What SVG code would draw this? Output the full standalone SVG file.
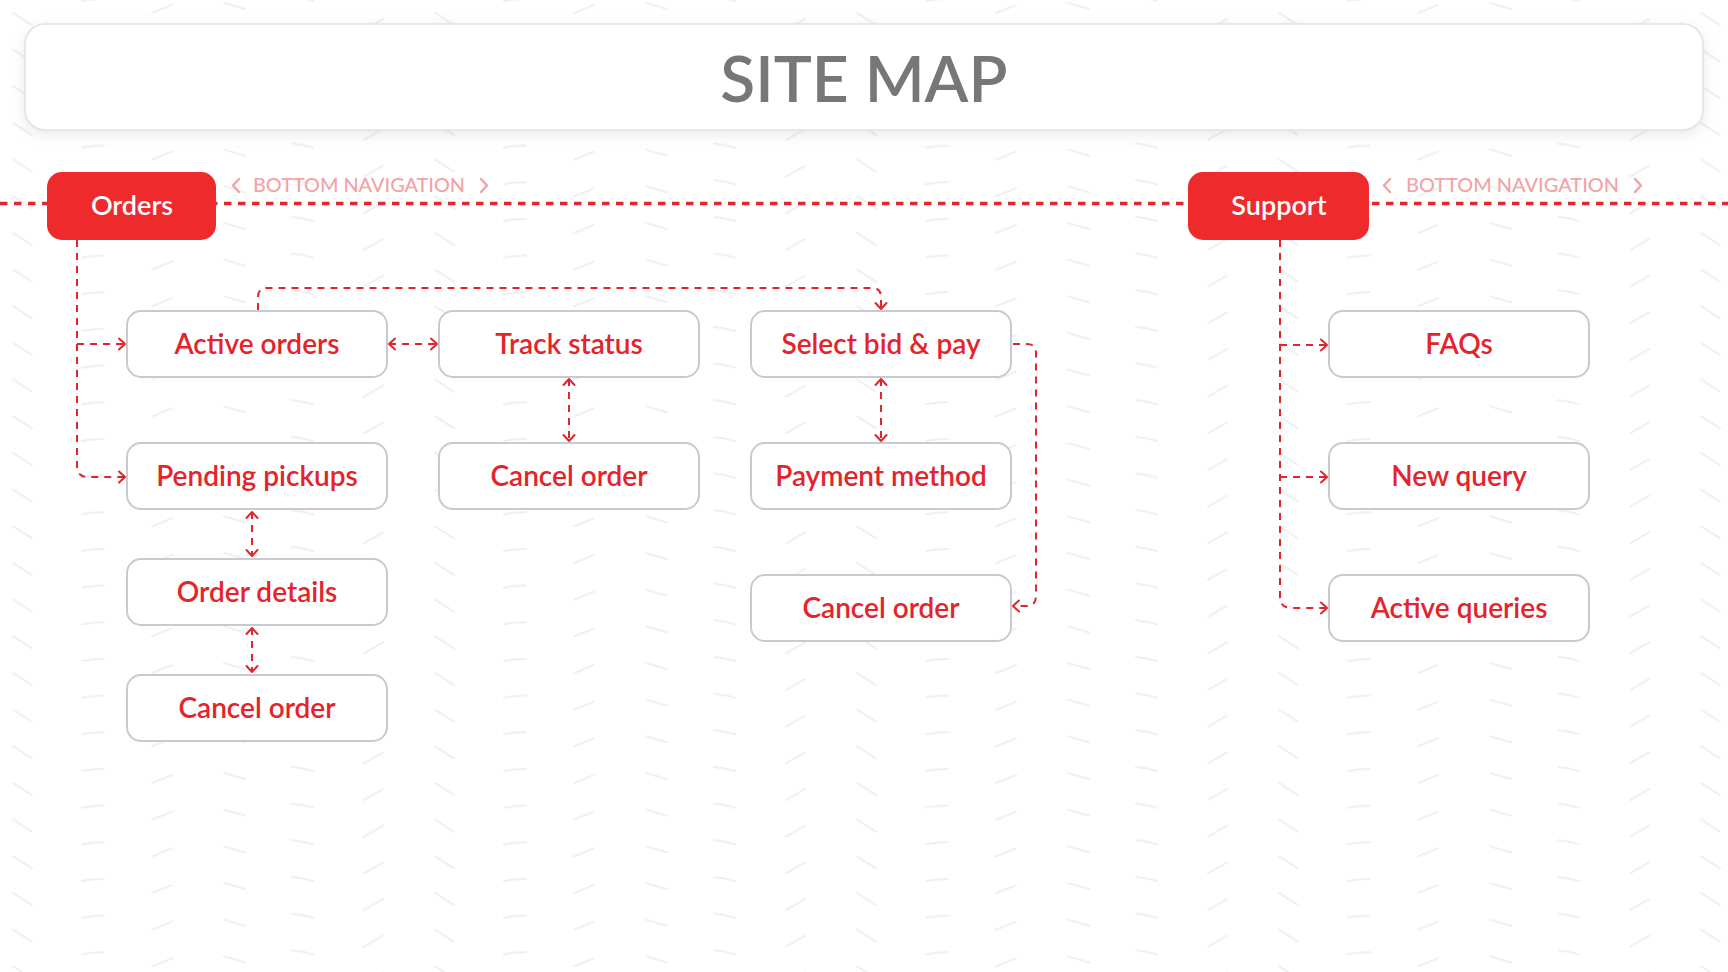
<svg xmlns="http://www.w3.org/2000/svg" width="1728" height="972" viewBox="0 0 1728 972">
<defs>
<style>
.bgm{stroke:#efeff1;stroke-width:2;stroke-linecap:round;fill:none}
.card{fill:#ffffff;stroke:#e1e1e7;stroke-width:1.5}
.title{font-family:Lato,"Liberation Sans",sans-serif;font-size:64px;font-weight:600;fill:#777777;text-anchor:middle}
.btn{fill:#ee2a2d}
.btnt{font-family:Lato,"Liberation Sans",sans-serif;font-size:27px;font-weight:600;fill:#ffffff;text-anchor:middle}
.nav{font-family:Lato,"Liberation Sans",sans-serif;font-size:19px;font-weight:500;fill:#f2a3a7}
.chev{fill:none;stroke:#f2a3a7;stroke-width:2.5;stroke-linecap:round;stroke-linejoin:round}
.navline{fill:none;stroke:#e8262c;stroke-width:3.5;stroke-dasharray:7.5 6.5}
.box{fill:#ffffff;stroke:#c9c9d4;stroke-width:2}
.lbl{font-family:Lato,"Liberation Sans",sans-serif;font-size:28px;font-weight:600;fill:#e5232a;text-anchor:middle}
.con{fill:none;stroke:#e0262c;stroke-width:2;stroke-dasharray:7 6}
</style>
<pattern id="bg" patternUnits="userSpaceOnUse" x="0" y="760" width="422" height="36.67">
<path class="bgm" d="M13 23L32 35M82 11Q93 9 104 9M152 23L172 15M224 13L245 19M292 7Q303 8 313 11M364 3.3L383 -7.7M364 40L383 29"/>
</pattern>
<filter id="sh" x="-5%" y="-40%" width="110%" height="180%">
<feDropShadow dx="0" dy="4" stdDeviation="7" flood-color="#808090" flood-opacity="0.18"/>
</filter>
<marker id="ah" viewBox="-9 -7 11 14" refX="0" refY="0" markerWidth="11" markerHeight="14" markerUnits="userSpaceOnUse" orient="auto-start-reverse">
<path d="M-6 -5.5L0 0L-6 5.5" fill="none" stroke="#e0262c" stroke-width="2" stroke-linecap="round" stroke-linejoin="round"/>
</marker>
</defs>
<rect width="1728" height="972" fill="#ffffff"/>
<rect width="1728" height="972" fill="url(#bg)"/>

<g id="title">
<rect class="card" x="25" y="24" width="1678" height="106" rx="20" filter="url(#sh)"/>
<text class="title" x="864" y="102">SITE MAP</text>
</g>

<g id="connectors">
<path class="navline" d="M0 203.5H1728"/>
<path class="con" d="M77 240V466Q77 477 88 477H125" marker-end="url(#ah)"/>
<path class="con" d="M77 344H125" marker-end="url(#ah)"/>
<path class="con" d="M389 344H437" marker-start="url(#ah)" marker-end="url(#ah)"/>
<path class="con" d="M258 310V297Q258 288 267 288H872Q881 288 881 297V309" marker-end="url(#ah)"/>
<path class="con" d="M569 379V441" marker-start="url(#ah)" marker-end="url(#ah)"/>
<path class="con" d="M881 379V441" marker-start="url(#ah)" marker-end="url(#ah)"/>
<path class="con" d="M1013 344H1027Q1036 344 1036 353V596Q1036 606 1026 606H1013" marker-end="url(#ah)"/>
<path class="con" d="M252 512V556" marker-start="url(#ah)" marker-end="url(#ah)"/>
<path class="con" d="M252 628V672" marker-start="url(#ah)" marker-end="url(#ah)"/>
<path class="con" d="M1280 240V597Q1280 608 1291 608H1327" marker-end="url(#ah)"/>
<path class="con" d="M1280 345H1327" marker-end="url(#ah)"/>
<path class="con" d="M1280 477H1327" marker-end="url(#ah)"/>
</g>

<g id="nav-orders">
<path class="chev" d="M239 179L233 185.5L239 192"/>
<text class="nav" x="253" y="192" textLength="212" lengthAdjust="spacingAndGlyphs">BOTTOM NAVIGATION</text>
<path class="chev" d="M481 179L487 185.5L481 192"/>
</g>
<g id="nav-support">
<path class="chev" d="M1390 179L1384 185.5L1390 192"/>
<text class="nav" x="1406" y="192" textLength="213" lengthAdjust="spacingAndGlyphs">BOTTOM NAVIGATION</text>
<path class="chev" d="M1635 179L1641 185.5L1635 192"/>
</g>

<g id="orders">
<rect class="btn" x="47" y="172" width="169" height="68" rx="15"/>
<text class="btnt" x="132" y="215">Orders</text>
</g>
<g id="support">
<rect class="btn" x="1188" y="172" width="181" height="68" rx="15"/>
<text class="btnt" x="1279" y="215">Support</text>
</g>

<g id="active-orders"><rect class="box" x="127" y="311" width="260" height="66" rx="14"/><text class="lbl" x="257" y="354">Active orders</text></g>
<g id="pending-pickups"><rect class="box" x="127" y="443" width="260" height="66" rx="14"/><text class="lbl" x="257" y="486">Pending pickups</text></g>
<g id="order-details"><rect class="box" x="127" y="559" width="260" height="66" rx="14"/><text class="lbl" x="257" y="602">Order details</text></g>
<g id="cancel-order-1"><rect class="box" x="127" y="675" width="260" height="66" rx="14"/><text class="lbl" x="257" y="718">Cancel order</text></g>

<g id="track-status"><rect class="box" x="439" y="311" width="260" height="66" rx="14"/><text class="lbl" x="569" y="354">Track status</text></g>
<g id="cancel-order-2"><rect class="box" x="439" y="443" width="260" height="66" rx="14"/><text class="lbl" x="569" y="486">Cancel order</text></g>

<g id="select-bid"><rect class="box" x="751" y="311" width="260" height="66" rx="14"/><text class="lbl" x="881" y="354">Select bid &amp; pay</text></g>
<g id="payment-method"><rect class="box" x="751" y="443" width="260" height="66" rx="14"/><text class="lbl" x="881" y="486">Payment method</text></g>
<g id="cancel-order-3"><rect class="box" x="751" y="575" width="260" height="66" rx="14"/><text class="lbl" x="881" y="618">Cancel order</text></g>

<g id="faqs"><rect class="box" x="1329" y="311" width="260" height="66" rx="14"/><text class="lbl" x="1459" y="354">FAQs</text></g>
<g id="new-query"><rect class="box" x="1329" y="443" width="260" height="66" rx="14"/><text class="lbl" x="1459" y="486">New query</text></g>
<g id="active-queries"><rect class="box" x="1329" y="575" width="260" height="66" rx="14"/><text class="lbl" x="1459" y="618">Active queries</text></g>
</svg>
